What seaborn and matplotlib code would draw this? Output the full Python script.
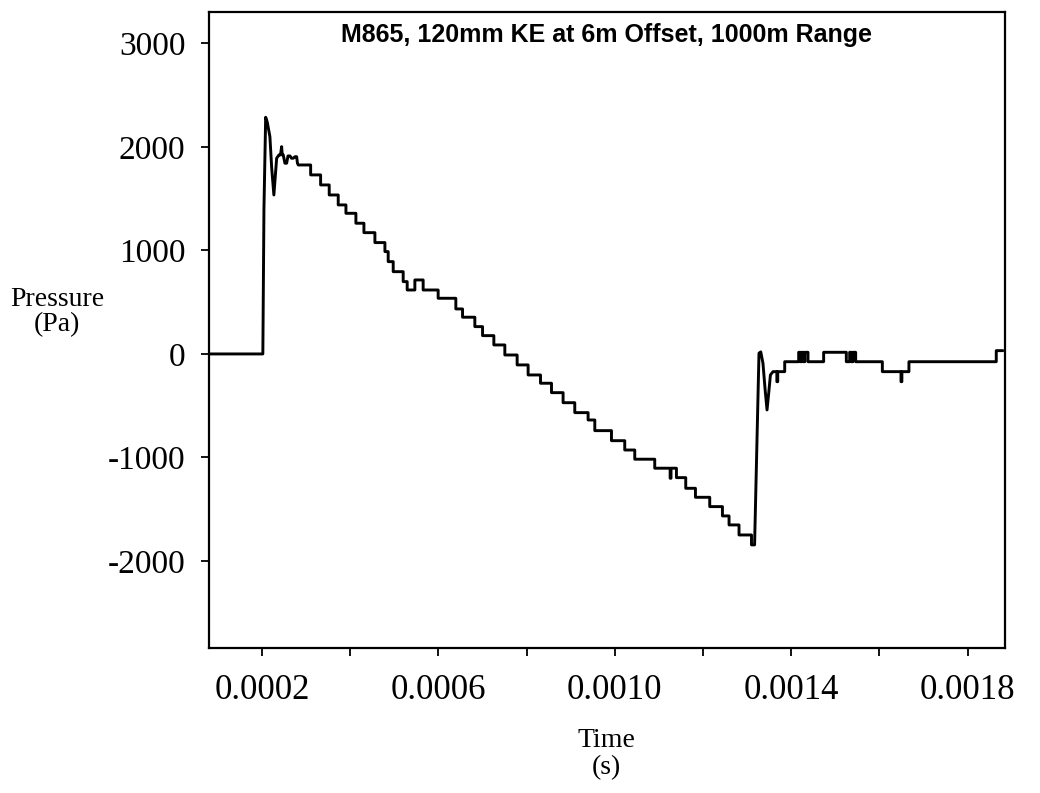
import numpy as np
import pandas as pd
import matplotlib
matplotlib.use('Agg')
import matplotlib.pyplot as plt
import seaborn as sns

# Pressure signature, M865 120mm KE at 6m offset, 1000m range
# times in microseconds, pressures in Pa

# shock arrival and ringing
onset_t = [80, 202, 204.5, 208.4, 212, 218, 222, 227, 230, 233.3, 238.5, 242, 244.6, 246,
           248.3, 252, 256, 259, 263.5, 267, 270.9, 275, 278.6, 280.5, 282.3]
onset_p = [0, 0, 1400, 2287, 2240, 2100, 1800, 1536, 1700, 1891, 1923, 1923, 2003, 1923,
           1923, 1843, 1843, 1913, 1913, 1891, 1891, 1906, 1906, 1843, 1826]

# staircase decay (time of each step, new level)
step_t = [310.4, 333.0, 352.5, 372.9, 390.4, 413.0, 431.2, 456.1, 478.8, 486.2, 497.6,
          520.2, 529.3, 546.7, 565.5, 599.5, 639.6, 654.8, 682.7, 700.2, 725.8, 750.7,
          778.6, 803.5, 831.6, 856.5, 882.8, 909.3, 939.5, 954.7, 992.5, 1022.6, 1045.3,
          1090.6, 1125.5, 1127.5, 1139.8, 1160.9, 1182.9, 1215.3, 1244.1, 1259.1, 1281.7,
          1310.0]
step_p = [1730, 1633, 1536, 1440, 1359, 1263, 1172, 1076, 989, 892, 795,
          699, 618, 715, 618, 538, 435, 355, 264, 177, 87, -10,
          -106, -203, -283, -374, -471, -567, -638, -741, -838, -928, -1017,
          -1104, -1201, -1104, -1195, -1298, -1385, -1475, -1565, -1652, -1749,
          -1845]

# tail shock / recompression
rebound_t = [1317, 1327, 1331, 1336, 1341, 1345.2, 1349, 1352.9, 1358.8]
rebound_p = [-1845, 7, 20, -90, -350, -541, -380, -203, -171]

# flat tail (step times, new level)
tail_t = [1367.5, 1369.5, 1385.3, 1417, 1421, 1424, 1428, 1431, 1438.1, 1473.6, 1525,
          1532.6, 1537, 1540, 1546.2, 1606.7, 1649, 1651, 1667, 1865, 1880]
tail_p = [-268, -171, -75, 16, -75, 16, -75, 16, -75, 16, -75,
          16, -75, 16, -75, -171, -268, -171, -75, 32, 32]


def expand_steps(start_level, times, levels):
    xs, ys = [], []
    prev = start_level
    for t, lv in zip(times, levels):
        xs += [t, t]
        ys += [prev, lv]
        prev = lv
    return xs, ys


st_x, st_y = expand_steps(onset_p[-1], step_t, step_p)
tl_x, tl_y = expand_steps(rebound_p[-1], tail_t[:-1], tail_p[:-1])

t_all = onset_t + st_x + rebound_t + tl_x + [tail_t[-1]]
p_all = onset_p + st_y + rebound_p + tl_y + [tail_p[-1]]

df = pd.DataFrame({'time': np.array(t_all) * 1e-6, 'pressure': p_all})

sns.set_style('ticks')
plt.rcParams['font.family'] = ['Liberation Serif', 'DejaVu Serif']
plt.rcParams['text.color'] = 'black'
plt.rcParams['axes.labelcolor'] = 'black'
plt.rcParams['xtick.color'] = 'black'
plt.rcParams['ytick.color'] = 'black'

fig = plt.figure(figsize=(10.4, 7.93), dpi=100)
ax = fig.add_axes([0.201, 0.183, 0.765, 0.802])

sns.lineplot(data=df, x='time', y='pressure', sort=False, estimator=None,
             color='black', linewidth=2.1, ax=ax)

ax.set_xlim(0.00008, 0.001884)
ax.set_ylim(-2840, 3305)

xticks = [0.0002, 0.0004, 0.0006, 0.0008, 0.0010, 0.0012, 0.0014, 0.0016, 0.0018]
xlabels = ['0.0002', '', '0.0006', '', '0.0010', '', '0.0014', '', '0.0018']
ax.set_xticks(xticks)
ax.set_xticklabels(xlabels, fontsize=25)
yticks = [-2000, -1000, 0, 1000, 2000, 3000]
ax.set_yticks(yticks)
ax.set_yticklabels([str(v) for v in yticks], fontsize=24)

ax.tick_params(axis='x', direction='out', length=6, width=1.3, pad=13, colors='black')
ax.tick_params(axis='y', direction='out', length=6, width=1.3, pad=11, colors='black')
for sp in ax.spines.values():
    sp.set_visible(True)
    sp.set_linewidth(1.6)
    sp.set_color('black')

ax.set_xlabel('')
ax.set_ylabel('')

ax.text(0.5, 0.964, 'M865, 120mm KE at 6m Offset, 1000m Range', transform=ax.transAxes,
        ha='center', va='center', fontsize=18, fontweight='bold', color='black',
        family=['Liberation Sans', 'DejaVu Sans'])

fig.text(0.055, 0.607, 'Pressure\n(Pa)', ha='center', va='center', fontsize=20,
         linespacing=1.0, color='black')
fig.text(0.583, 0.049, 'Time\n(s)', ha='center', va='center', fontsize=20,
         linespacing=1.08, color='black')

fig.savefig('out.png', dpi=100)
